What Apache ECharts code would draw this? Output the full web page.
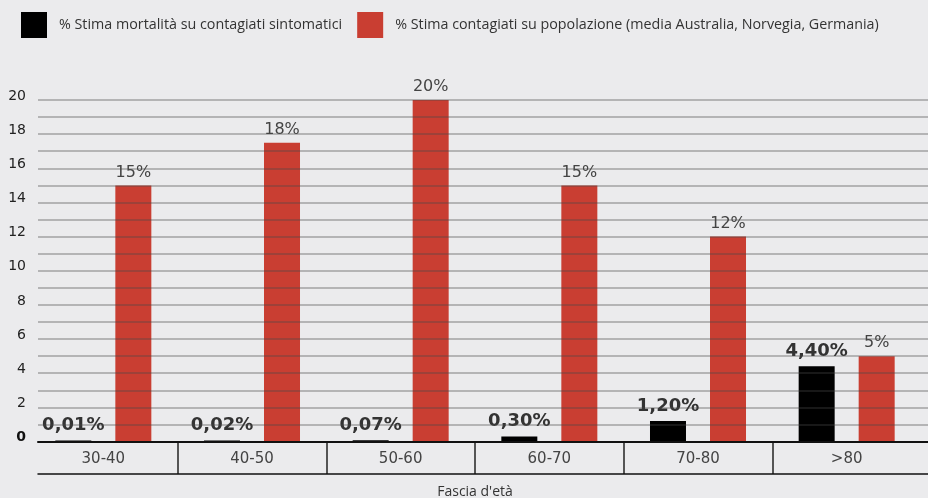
<!DOCTYPE html>
<html><head><meta charset="utf-8">
<script src="https://cdn.jsdelivr.net/npm/echarts@6/dist/echarts.min.js"></script>
<style>html,body{margin:0;padding:0;background:#ebebed}#c{width:928px;height:498px}</style>
</head><body><div id="c"></div>
<script>
const categories = ['30-40','40-50','50-60','60-70','70-80','>80'];
const mortalita = [0.01,0.02,0.07,0.3,1.2,4.4];
const mortalitaLabels = ['0,01%','0,02%','0,07%','0,30%','1,20%','4,40%'];
const contagiati = [15,17.5,20,15,12,5];
const contagiatiLabels = ['15%','18%','20%','15%','12%','5%'];
const seriesNames = ['% Stima mortalità su contagiati sintomatici','% Stima contagiati su popolazione (media Australia, Norvegia, Germania)'];
const yTicks = [0,2,4,6,8,10,12,14,16,18,20];
const xName = "Fascia d'età";

const TOP = 100, ZERO = 441.5;
const chart = echarts.init(document.getElementById('c'));
chart.setOption({
  backgroundColor: '#ebebed',
  animation: false,
  legend: {
    left: 21, top: 12, padding: 0, itemWidth: 26, itemHeight: 26, itemGap: 15, icon: 'rect',
    textStyle: {fontFamily: 'Open Sans', fontSize: 14.3, color: '#333', padding: [0,0,0,7]},
    data: seriesNames
  },
  grid: [
    {left: 29, right: 7, top: TOP, bottom: 498 - ZERO, outerBoundsMode: 'none', containLabel: false},
    {left: 38, right: 0, top: TOP, bottom: 498 - ZERO, outerBoundsMode: 'none', containLabel: false},
    {left: 29, right: 7, top: ZERO, bottom: 498 - 474, outerBoundsMode: 'none', containLabel: false}
  ],
  xAxis: [
    {type: 'category', gridIndex: 0, data: categories,
     axisLine: {show: false}, axisTick: {show: false},
     axisLabel: {margin: 10, fontFamily: 'DejaVu Sans', fontSize: 15, color: '#444'},
     name: xName, nameLocation: 'middle', nameGap: 44,
     nameTextStyle: {fontFamily: 'Open Sans', fontSize: 14, color: '#333'}},
    {type: 'value', gridIndex: 1, min: 0, max: 1, position: 'bottom', z: 6,
     axisLine: {show: true, lineStyle: {color: '#111', width: 2}},
     axisTick: {show: false}, axisLabel: {show: false}, splitLine: {show: false}},
    {type: 'value', gridIndex: 1, min: 0, max: 1, position: 'bottom', offset: 32.5,
     axisLine: {show: true, lineStyle: {color: '#111', width: 1.5}},
     axisTick: {show: false}, axisLabel: {show: false}, splitLine: {show: false}},
    {type: 'category', gridIndex: 2, data: categories,
     axisLine: {show: false}, axisTick: {show: false}, axisLabel: {show: false},
     splitLine: {show: true, showMinLine: false, showMaxLine: false, lineStyle: {color: '#555', width: 2}}}
  ],
  yAxis: [
    {type: 'value', gridIndex: 0, min: 0, max: 20, show: false},
    {type: 'value', gridIndex: 1, min: 0, max: 20, interval: 1, z: 5,
     axisLine: {show: false}, axisTick: {show: false},
     splitLine: {show: true, lineStyle: {color: 'rgba(70,70,70,0.45)', width: 1.5}},
     axisLabel: {margin: 12, fontFamily: 'DejaVu Sans', fontSize: 14, color: '#222', padding: [0,0,8,0],
       formatter: v => yTicks.indexOf(v) < 0 ? '' : (v === 0 ? '{b|0}' : String(v)),
       rich: {b: {fontFamily: 'DejaVu Sans', fontSize: 14, fontWeight: 'bold', color: '#111'}}}},
    {type: 'value', gridIndex: 2, show: false}
  ],
  series: [
    {name: seriesNames[0], type: 'bar', xAxisIndex: 0, yAxisIndex: 0, data: mortalita,
     barWidth: 36, barGap: '66.7%', barMinHeight: 1, itemStyle: {color: '#000'},
     label: {show: true, position: 'top', distance: 6, fontFamily: 'DejaVu Sans', fontWeight: 'bold', fontSize: 18, color: '#333',
       formatter: p => mortalitaLabels[p.dataIndex]}},
    {name: seriesNames[1], type: 'bar', xAxisIndex: 0, yAxisIndex: 0, data: contagiati,
     barWidth: 36, barGap: '66.7%', itemStyle: {color: '#c93e32'},
     label: {show: true, position: 'top', distance: 5, fontFamily: 'DejaVu Sans', fontSize: 16, color: '#444',
       formatter: p => contagiatiLabels[p.dataIndex]}}
  ]
});
</script></body></html>
